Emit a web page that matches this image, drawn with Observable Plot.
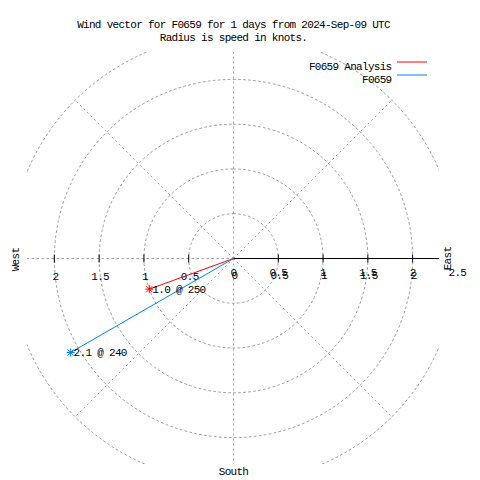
<!DOCTYPE html>
<html><head><meta charset="utf-8">
<script src="https://cdn.jsdelivr.net/npm/d3@7"></script>
<script src="https://cdn.jsdelivr.net/npm/@observablehq/plot@0.6"></script>
<style>body{margin:0;background:#fff}</style>
</head><body><div id="chart"></div>
<script>
const titleLines = ["Wind vector for F0659 for 1 days from 2024-Sep-09 UTC", "Radius is speed in knots."];
const series = ["F0659 Analysis", "F0659"];
const speeds = [1.0, 2.1];
const directions = [250, 240];
const ringRadii = [0.5, 1, 1.5, 2, 2.5];
const spokeAngles = [0, 45, 90, 135, 180, 225, 270, 315];
const tickValues = [0.5, 1, 1.5, 2];
const rightTickLabels = [0, 0.5, 1, 1.5, 2];
const outerLabel = [2.5];
const leftTickLabels = [0.5, 1, 1.5, 2];
const seriesColors = ["#ff0000", "#0080ff"];

const rad = d => d * Math.PI / 180;
const vectors = series.map((name, i) => ({
  name,
  x: speeds[i] * Math.sin(rad(directions[i])),
  y: speeds[i] * Math.cos(rad(directions[i])),
  label: `${speeds[i].toFixed(1)} @ ${directions[i]}`
}));
const rmax = d3.max(ringRadii);
const ringPts = ringRadii.flatMap(r => d3.range(0, 361, 2).map(a => ({r, x: r * Math.sin(rad(a)), y: r * Math.cos(rad(a))})));
const spokes = spokeAngles.map(a => ({x2: rmax * Math.sin(rad(a)), y2: rmax * Math.cos(rad(a))}));

const vtick = {draw(ctx, size) { const r = Math.sqrt(size / Math.PI); ctx.moveTo(0, -r); ctx.lineTo(0, r); }};
const star = {draw(ctx, size) {
  const r = Math.sqrt(size / Math.PI), d = r * 0.75;
  ctx.moveTo(-r, 0); ctx.lineTo(r, 0);
  ctx.moveTo(0, -r); ctx.lineTo(0, r);
  ctx.moveTo(-d, -d); ctx.lineTo(d, d);
  ctx.moveTo(-d, d); ctx.lineTo(d, -d);
}};

const grid = {stroke: "#a0a0a0", strokeWidth: 1, strokeDasharray: "2,3"};
const lim = 2.3;

const plot = Plot.plot({
  width: 480, height: 480,
  marginLeft: 27, marginRight: 41, marginTop: 52, marginBottom: 16,
  x: {domain: [-lim, lim], axis: null},
  y: {domain: [-lim, lim], axis: null},
  color: {domain: series, range: seriesColors},
  style: {fontFamily: "'Liberation Mono', 'DejaVu Sans Mono', monospace", fontSize: "11px", letterSpacing: "-0.7px", background: "#fff"},
  marks: [
    Plot.line(ringPts, {x: "x", y: "y", z: "r", ...grid, clip: true}),
    Plot.link(spokes, {x1: 0, y1: 0, x2: "x2", y2: "y2", ...grid, clip: true}),
    Plot.ruleY([0], {x1: -lim, x2: 0, ...grid}),
    Plot.ruleY([0], {x1: 0, x2: lim, stroke: "black", strokeWidth: 1}),
    Plot.dot(tickValues, {x: d => -d, y: 0, symbol: vtick, r: 4, stroke: "black", strokeWidth: 1}),
    Plot.dot(tickValues, {x: d => d, y: 0, symbol: vtick, r: 4, stroke: "black", strokeWidth: 1}),
    Plot.text(leftTickLabels, {x: d => -d, y: 0, text: d => String(d), dx: 1, dy: 18, fill: "black"}),
    Plot.text(rightTickLabels, {x: d => d, y: 0, text: d => String(d), dx: 0, dy: 14, fill: "black"}),
    Plot.text(rightTickLabels, {x: d => d, y: 0, text: d => String(d), dx: 1, dy: 17, fill: "black"}),
    Plot.text(outerLabel, {x: d => d, y: 0, text: d => String(d), dy: 14, fill: "black"}),
    Plot.text(["West"], {x: -lim, y: 0, text: d => d, rotate: -90, dx: -12, dy: 1, fill: "black"}),
    Plot.text(["East"], {x: lim, y: 0, text: d => d, rotate: -90, dx: 8, dy: 0, fill: "black"}),
    Plot.text(["South"], {x: 0, y: -lim, text: d => d, dy: 7, fill: "black"}),
    Plot.text(titleLines, {frameAnchor: "top", text: d => d, dy: (d, i) => 0, fill: "black", filter: (d, i) => i === 0, dy: -32}),
    Plot.text(titleLines, {frameAnchor: "top", text: d => d, fill: "black", filter: (d, i) => i === 1, dy: -19}),
    Plot.text(series, {frameAnchor: "top-right", text: d => d, textAnchor: "end", fill: "black", filter: (d, i) => i === 0, dx: -48, dy: 10}),
    Plot.text(series, {frameAnchor: "top-right", text: d => d, textAnchor: "end", fill: "black", filter: (d, i) => i === 1, dx: -48, dy: 23}),
    Plot.link(vectors, {x1: 0, y1: 0, x2: "x", y2: "y", stroke: "name", strokeWidth: 1}),
    Plot.dot(vectors, {x: "x", y: "y", symbol: star, r: 4, stroke: "name", strokeWidth: 1}),
    Plot.text(vectors, {x: "x", y: "y", text: "label", textAnchor: "start", dx: 3, fill: "black"})
  ]
});
document.getElementById("chart").appendChild(plot);

// legend sample lines
const svg = d3.select(plot);
const legendRows = [62, 75];
series.forEach((name, i) => {
  svg.append("line").attr("x1", 397).attr("x2", 427)
    .attr("y1", legendRows[i]).attr("y2", legendRows[i])
    .attr("stroke", seriesColors[i]).attr("stroke-width", 1);
});
</script>
</body></html>
